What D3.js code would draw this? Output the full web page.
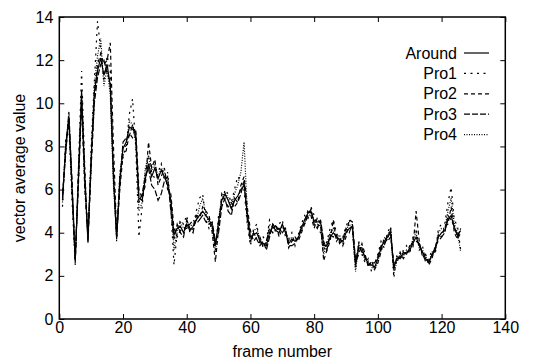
<!DOCTYPE html>
<html>
<head>
<meta charset="utf-8">
<script src="https://cdn.jsdelivr.net/npm/d3@7"></script>
<style>
  body { margin: 0; background: #fff; }
  text { font-family: "Liberation Sans", Arial, sans-serif; fill: #000; }
</style>
</head>
<body>
<svg id="chart"></svg>
<script>
// 各序列的數值（frame 1 ~ 126）
const around = [5.5,8.0,9.4,6.0,2.7,6.5,10.3,6.5,3.7,7.5,
  10.5,11.5,12.1,11.3,11.8,10.8,6.5,3.7,6.5,7.9,
  8.2,8.9,8.8,8.6,5.6,5.5,6.5,7.2,6.6,7.0,
  6.5,6.9,6.6,6.2,5.5,3.9,4.2,4.3,4.0,4.4,
  4.1,4.3,4.6,4.8,5.0,4.8,4.6,4.3,3.4,4.5,
  5.5,5.8,5.5,5.1,5.5,5.7,6.0,6.2,4.9,3.8,
  3.9,4.0,3.6,3.5,3.4,4.0,4.3,4.1,4.0,4.4,
  4.0,3.5,3.7,3.6,3.75,4.2,4.6,4.9,5.0,4.5,
  4.5,4.5,3.4,3.4,3.8,4.0,3.8,3.7,3.6,4.0,
  4.2,4.3,2.5,3.3,3.3,2.8,2.6,2.5,2.4,2.8,
  3.3,3.6,3.8,4.0,2.4,2.8,2.9,3.0,3.1,3.2,
  3.5,3.8,3.4,3.1,2.8,2.6,3.0,3.2,3.8,4.0,
  4.1,4.6,4.8,4.2,3.9,4.1];
const pro1 = [5.2,8.3,9.0,5.5,2.5,7.0,11.5,7.0,3.6,8.0,
  11.0,13.8,12.5,11.0,12.2,11.5,7.0,3.6,6.8,7.5,
  8.0,9.5,10.2,8.0,3.8,5.2,6.8,7.5,6.8,6.5,
  6.8,7.2,6.4,6.8,5.2,2.5,4.0,4.6,4.4,4.8,
  4.0,4.2,5.0,5.6,5.8,4.6,4.2,4.4,3.2,4.8,
  5.2,6.0,5.8,5.4,6.0,6.6,6.4,6.0,4.4,3.4,
  4.2,4.4,3.4,3.8,3.6,4.6,4.4,4.0,4.4,4.6,
  3.8,3.7,4.0,3.4,3.9,4.4,4.8,4.6,5.2,4.8,
  4.3,4.0,3.2,3.6,4.2,4.6,4.0,3.6,3.8,4.3,
  4.6,4.1,2.3,3.6,3.0,2.6,2.8,2.2,2.5,3.0,
  3.6,3.3,4.0,4.3,1.9,3.0,2.7,3.2,3.4,3.0,
  3.8,4.2,3.2,3.4,2.6,2.8,3.2,3.0,4.2,4.4,
  4.4,5.4,6.1,4.6,4.3,3.2];
const pro2 = [5.6,7.8,9.2,6.2,2.9,6.2,10.0,6.0,3.9,7.0,
  10.2,11.8,12.3,11.8,12.0,12.8,8.0,4.0,6.0,7.6,
  7.8,8.6,8.4,8.8,6.0,5.6,6.2,8.2,7.0,7.4,
  6.2,6.6,7.0,6.0,5.8,4.2,3.8,4.1,4.2,4.2,
  4.4,4.6,4.4,4.6,5.2,5.0,4.8,4.0,2.65,4.2,
  5.8,5.5,5.2,5.4,5.2,5.4,6.2,6.6,5.2,4.1,
  3.6,3.8,3.8,3.3,3.6,4.2,4.0,4.4,3.8,4.2,
  4.2,3.3,3.6,3.8,3.6,4.0,4.4,5.0,4.8,4.2,
  4.7,4.4,2.7,3.2,3.6,4.6,3.6,3.8,3.4,3.8,
  4.6,4.5,2.6,3.0,3.5,3.0,2.4,2.7,2.3,2.6,
  3.1,3.8,3.6,3.8,2.6,2.6,3.1,2.8,3.0,3.4,
  3.3,5.0,3.6,2.9,3.0,2.5,2.8,3.4,3.6,3.8,
  4.3,4.4,5.2,4.0,3.7,4.0];
const pro3 = [5.8,7.6,9.6,6.4,2.6,6.8,10.6,6.8,3.5,7.2,
  10.0,11.2,11.8,12.0,11.4,11.0,6.8,3.8,6.2,8.2,
  8.4,8.5,9.0,8.4,5.4,5.8,6.6,7.0,6.2,6.0,
  5.5,5.8,6.4,6.6,5.0,3.7,4.4,4.0,3.8,4.6,
  4.2,4.0,4.8,4.6,4.8,4.5,4.4,4.5,3.6,4.0,
  5.2,5.6,5.0,4.8,5.6,5.4,5.8,6.4,4.6,3.6,
  4.0,3.7,3.4,3.6,3.2,3.8,4.4,4.2,4.2,4.0,
  4.2,3.4,3.4,3.5,3.8,4.3,4.4,4.8,5.1,4.4,
  4.2,4.6,3.6,3.2,3.9,3.8,3.9,3.5,3.7,4.2,
  4.0,4.4,2.7,3.4,3.1,2.9,2.5,2.6,2.6,2.9,
  3.4,3.5,3.7,4.2,2.3,2.9,2.8,3.1,3.0,3.3,
  3.6,3.6,3.5,3.0,2.7,2.7,2.9,3.3,3.9,3.8,
  4.0,4.8,4.6,4.3,3.8,4.2];
const pro4 = [5.4,8.1,9.3,5.8,2.8,6.4,10.4,6.2,3.8,7.4,
  10.8,12.2,13.0,10.8,11.6,10.4,6.2,3.9,6.6,8.0,
  8.0,9.2,9.0,8.2,5.0,5.4,7.0,7.6,6.9,7.2,
  6.6,7.0,6.8,6.4,5.6,3.2,4.1,4.5,4.2,4.3,
  4.3,4.4,4.5,5.2,5.6,4.9,4.4,4.2,3.1,4.6,
  5.6,5.9,5.6,5.2,5.8,6.2,6.8,8.2,5.0,3.5,
  4.1,4.2,3.7,3.4,3.5,4.4,4.2,4.3,4.1,4.3,
  4.1,3.6,3.8,3.7,3.7,4.1,4.5,4.7,4.9,4.6,
  4.4,4.3,3.0,3.5,4.0,4.2,3.7,3.9,3.5,4.1,
  4.4,4.2,2.2,3.5,3.2,2.7,2.7,2.4,2.3,2.7,
  3.2,3.4,3.9,4.1,2.1,2.7,3.0,2.9,3.2,3.1,
  3.7,4.0,3.3,3.2,2.9,2.6,3.1,3.1,4.0,4.2,
  4.2,5.0,5.6,4.4,4.0,3.1];
const seriesNames = ["Around", "Pro1", "Pro2", "Pro3", "Pro4"];
const seriesData = [around, pro1, pro2, pro3, pro4];
const xTicks = [0, 20, 40, 60, 80, 100, 120, 140];
const yTicks = [0, 2, 4, 6, 8, 10, 12, 14];

//svg畫布大小
const width = 533;
const height = 362;
const marge = { top: 17, bottom: 43, left: 59.3, right: 27.7 };
const dashes = [null, "2,4.5", "4,3", "6,2", "1,1.5"];

const svg = d3.select("#chart").attr("width", width).attr("height", height);
const w = width - marge.left - marge.right;
const h = height - marge.top - marge.bottom;

const xScale = d3.scaleLinear().domain([0, 140]).range([0, w]);
const yScale = d3.scaleLinear().domain([0, 14]).range([h, 0]);

const g = svg.append("g").attr("transform", `translate(${marge.left},${marge.top})`);

//坐標軸（刻度朝內，上方右方鏡像）
const fontSize = "16px";
const gx = g.append("g").attr("transform", `translate(0,${h})`)
  .call(d3.axisBottom(xScale).tickValues(xTicks).tickSizeInner(-5).tickSizeOuter(0).tickPadding(3));
const gy = g.append("g")
  .call(d3.axisLeft(yScale).tickValues(yTicks).tickSizeInner(-5).tickSizeOuter(0).tickPadding(6));
const gx2 = g.append("g")
  .call(d3.axisTop(xScale).tickValues(xTicks).tickSizeInner(-5).tickSizeOuter(0).tickFormat(""));
const gy2 = g.append("g").attr("transform", `translate(${w},0)`)
  .call(d3.axisRight(yScale).tickValues(yTicks).tickSizeInner(-5).tickSizeOuter(0).tickFormat(""));
[gx, gy, gx2, gy2].forEach(a => {
  a.select(".domain").remove();
  a.selectAll("line").attr("stroke", "#000");
  a.selectAll("text").style("font-size", fontSize).attr("fill", "#000");
  a.attr("font-family", null);
});

//外框
g.append("rect").attr("width", w).attr("height", h)
  .attr("fill", "none").attr("stroke", "#000").attr("stroke-width", 1.5);

//折線
const line = d3.line()
  .x((d, i) => xScale(i + 1))
  .y(d => yScale(d));
seriesData.forEach((s, k) => {
  g.append("path")
    .datum(s)
    .attr("d", line)
    .attr("fill", "none")
    .attr("stroke", "#000")
    .attr("stroke-width", 1.2)
    .attr("stroke-dasharray", dashes[k]);
});

//圖例
const lg = svg.append("g").attr("transform", "translate(457,53)");
seriesNames.forEach((name, k) => {
  const row = lg.append("g").attr("transform", `translate(0,${k * 20.4})`);
  row.append("text").attr("text-anchor", "end").attr("dy", "0.35em")
    .style("font-size", fontSize).text(name);
  row.append("line").attr("x1", 7).attr("x2", 32).attr("y1", 0).attr("y2", 0)
    .attr("stroke", "#000").attr("stroke-width", 1.2).attr("stroke-dasharray", dashes[k]);
});

//軸標題
svg.append("text").attr("x", marge.left + w / 2).attr("y", 357)
  .attr("text-anchor", "middle").style("font-size", fontSize).text("frame number");
svg.append("text").attr("transform", `translate(25,${marge.top + h / 2}) rotate(-90)`)
  .attr("text-anchor", "middle").style("font-size", fontSize).text("vector average value");
</script>
</body>
</html>
